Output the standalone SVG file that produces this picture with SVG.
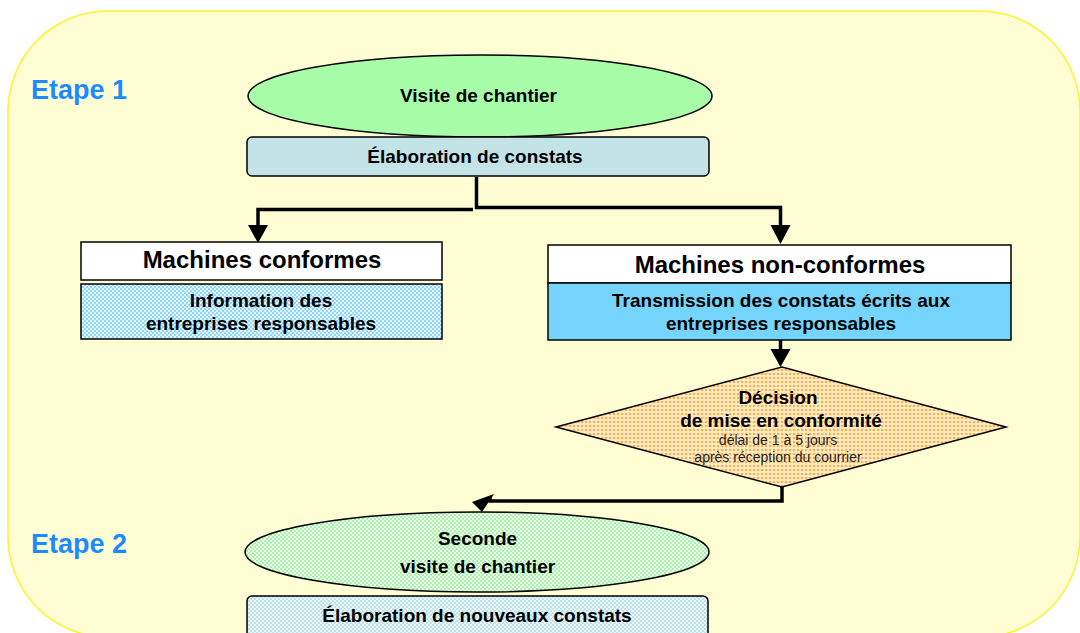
<svg xmlns="http://www.w3.org/2000/svg" width="1080" height="633" viewBox="0 0 1080 633">
<style>
.t{font-family:"Liberation Sans",Arial,sans-serif;font-weight:bold;fill:#000;text-anchor:middle}
.s{font-size:19px}
.l{font-size:24px}
.d{font-family:"Liberation Sans",Arial,sans-serif;font-size:14px;fill:#222;text-anchor:middle}
.e{font-family:"Liberation Sans",Arial,sans-serif;font-weight:bold;font-size:27px;fill:#1A8CFF}
.sh{stroke:#000;stroke-width:1.5}
.c{fill:none;stroke:#000;stroke-width:3.5}
</style>
<defs>
<pattern id="blueChk" width="4" height="4" patternUnits="userSpaceOnUse">
<rect width="4" height="4" fill="#E6F6FF"/>
<rect width="2" height="2" fill="#8ED6FA"/>
<rect x="2" y="2" width="2" height="2" fill="#8ED6FA"/>
</pattern>
<pattern id="greenChk" width="4" height="4" patternUnits="userSpaceOnUse">
<rect width="4" height="4" fill="#F0FFF0"/>
<rect width="2" height="2" fill="#A6F2A6"/>
<rect x="2" y="2" width="2" height="2" fill="#A6F2A6"/>
</pattern>
<pattern id="lbChk" width="4" height="4" patternUnits="userSpaceOnUse">
<rect width="4" height="4" fill="#E8F6F8"/>
<rect width="2" height="2" fill="#BFE3E8"/>
<rect x="2" y="2" width="2" height="2" fill="#BFE3E8"/>
</pattern>
<pattern id="orDots" width="4" height="4" patternUnits="userSpaceOnUse">
<rect width="4" height="4" fill="#FFE9C4"/>
<rect x="1" y="1" width="2" height="2" fill="#FFAE3A"/>
</pattern>
</defs>

<rect id="background" x="8" y="11" width="1072" height="626" rx="100" ry="100" fill="#FFFDD4" stroke="#FFF22A" stroke-width="1.5"/>

<g id="etape1"><text class="e" x="31" y="99">Etape 1</text></g>
<g id="etape2"><text class="e" x="31" y="553">Etape 2</text></g>

<g id="connectors">
<path class="c" d="M476.5,177 V207.5 H780.5 V225"/>
<path class="c" d="M473,209.5 H258 V225"/>
<path d="M248,225 L268,225 L258,243 Z" fill="#000"/>
<path d="M770.5,225 L790.5,225 L780.5,244 Z" fill="#000"/>
<path class="c" d="M780.5,340 V350"/>
<path d="M770.5,349 L790.5,349 L780.5,367 Z" fill="#000"/>
<path class="c" d="M782,486 V501 H490 V497"/>
<path d="M472,502 L494,494 L482,512 Z" fill="#000"/>
</g>

<g id="visite">
<ellipse class="sh" cx="480" cy="96" rx="232" ry="41" fill="#A8FDA8"/>
<text class="t s" x="478.5" y="102">Visite de chantier</text>
</g>

<g id="elaboration">
<rect class="sh" x="247" y="137" width="462" height="39" rx="5" fill="#C4E3E6"/>
<text class="t s" x="475" y="163">Élaboration de constats</text>
</g>

<g id="conformes">
<rect class="sh" x="81" y="242" width="361" height="38" fill="#FFFFFF"/>
<text class="t l" x="262" y="268">Machines conformes</text>
</g>

<g id="information">
<rect class="sh" x="81" y="284" width="361" height="55" fill="url(#blueChk)"/>
<text class="t s" x="261" y="307">Information des</text>
<text class="t s" x="261" y="330">entreprises responsables</text>
</g>

<g id="nonconformes">
<rect class="sh" x="548" y="245" width="463" height="38" fill="#FFFFFF"/>
<text class="t l" x="780" y="273">Machines non-conformes</text>
</g>

<g id="transmission">
<rect class="sh" x="548" y="283" width="463" height="57" fill="#74D4FC"/>
<text class="t s" x="781" y="307">Transmission des constats écrits aux</text>
<text class="t s" x="781" y="330">entreprises responsables</text>
</g>

<g id="decision">
<polygon class="sh" points="556,427 782,367 1006,427 782,487" fill="url(#orDots)"/>
<text class="t s" x="778" y="404">Décision</text>
<text class="t s" x="781" y="427">de mise en conformité</text>
<text class="d" x="778" y="445">délai de 1 à 5 jours</text>
<text class="d" x="778" y="462">après réception du courrier</text>
</g>

<g id="seconde">
<ellipse class="sh" cx="477" cy="552" rx="232" ry="40" fill="url(#greenChk)"/>
<text class="t s" x="477.5" y="545">Seconde</text>
<text class="t s" x="477.5" y="573">visite de chantier</text>
</g>

<g id="nouveaux">
<rect class="sh" x="247" y="596" width="461" height="45" rx="5" fill="url(#lbChk)"/>
<text class="t s" x="477" y="622">Élaboration de nouveaux constats</text>
</g>
</svg>
